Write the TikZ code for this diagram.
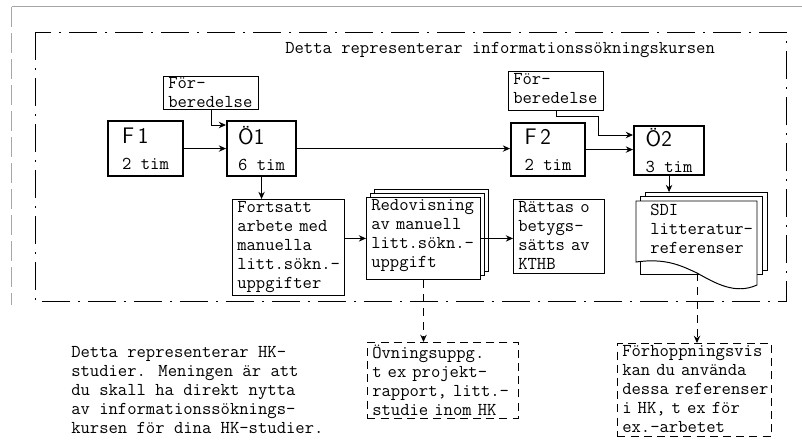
\documentclass[tikz,border=0pt]{standalone}
\usepackage{tikz}
\usetikzlibrary{positioning,arrows.meta,shadows,calc}
\newcommand{\Stor}{\sffamily\fontsize{16}{16}\selectfont}

\begin{document}
\begin{tikzpicture}[font=\ttfamily\fontsize{12.9}{13.5}\selectfont,
  ruta/.style={rectangle,draw,line width=0.7pt,align=left,anchor=north west,inner xsep=0.12cm,inner ysep=0.06cm},
  streck/.style={ruta,dash pattern=on 0.2cm off 0.13cm},
  kurs/.style={rectangle,draw,line width=1.5pt,align=left,anchor=north west,inner sep=0pt},
  pil/.style={-{Stealth[length=1.8mm,width=1.6mm]},line width=0.7pt},
  ram/.style={line width=0.7pt,dash pattern=on 0.7cm off 0.2cm on 0.05cm off 0.2cm}]
  \useasboundingbox (0,0) rectangle (20.05,-11.075);
  % page edges
  \draw[gray!70,line width=0.6pt] (0.29,-0.17) -- (20.05,-0.17);
  \draw[gray!70,line width=0.6pt,dash pattern=on 0.5cm off 0.15cm] (0.29,-0.17) -- (0.29,-7.63);
  % course frame
  \draw[ram] (0.875,-0.8) rectangle (19.65,-7.525);
  \node[anchor=base west,inner sep=0pt] (rubrik) at (7.125,-1.3375) {Detta representerar informationssökningskursen};

  \node[ruta,inner ysep=0.03cm,text width=2.135cm,text depth=0.5cm] (fb1) at (4.075,-1.9) {För-\\beredelse};
  \node[ruta,text width=2.135cm,text depth=0.58cm] (fb2) at (12.7,-1.775) {För-\\[-0.5pt]beredelse};

  \node[kurs,minimum width=1.875cm,minimum height=1.375cm] (f1) at (2.675,-3.0) {{\Stor F\,1}\\[5pt]2 tim};
  \node[kurs,minimum width=1.725cm,minimum height=1.375cm] (o1) at (5.65,-3.0) {{\Stor Ö1}\\[5pt]6 tim};
  \node[kurs,minimum width=1.85cm,minimum height=1.325cm] (f2) at (12.75,-3.05) {{\Stor F\,2}\\[5pt]2 tim};
  \node[kurs,minimum width=1.75cm,minimum height=1.225cm] (o2) at (15.825,-3.125) {{\Stor Ö2}\\[5pt]3 tim};

  \node[ruta,text width=2.56cm,text depth=2.0cm] (fort) at (5.8,-4.975) {Fortsatt\\arbete med\\manuella\\litt.sökn.-\\uppgifter};
  \node[ruta,fill=white,text width=2.61cm,text depth=1.65cm,
    copy shadow={shadow xshift=0.2cm,shadow yshift=0.2cm},
    copy shadow={shadow xshift=0.1cm,shadow yshift=0.1cm}] (redov) at (9.15,-4.925) {Redovisning\\av manuell\\litt.sökn.-\\uppgift};
  \node[ruta,text width=2.035cm,text depth=1.45cm] (ratt) at (12.825,-4.975) {Rättas o\\betygs-\\sätts av\\KTHB};

  % SDI list, three sheets
  \draw[line width=0.7pt,fill=white] (16.125,-4.8) rectangle (19.175,-6.75);
  \draw[line width=0.7pt,fill=white] (16.0,-4.9) rectangle (19.05,-6.85);
  \draw[line width=0.7pt,fill=white] (15.9,-5.025) -- (18.925,-5.025) -- (18.925,-7.125)
    .. controls (18.375,-7.375) and (17.875,-7.075) .. (17.425,-6.825)
    .. controls (17.0,-6.625) and (16.625,-6.45) .. (15.9,-6.55) -- cycle;
  \node[ruta,draw=none,text width=2.6cm] (sdi) at (16.125,-5.025) {SDI\\litteratur-\\referenser};
  \coordinate (sdifot) at (17.425,-6.825);

  \node[streck,text width=3.535cm,text depth=1.43cm] (ovn) at (9.175,-8.55) {Övningsuppg.\\t ex projekt-\\rapport,~litt.-\\studie inom HK};
  \node[streck,text width=3.61cm,text depth=1.93cm] (forh) at (15.425,-8.575) {Förhoppningsvis\\kan du använda\\dessa~referenser\\i HK, t ex för\\ex.-arbetet};
  \node[align=left,anchor=north west,inner sep=0pt] (hk) at (1.775,-8.66) {Detta representerar HK-\\studier. Meningen är att\\du skall ha direkt nytta\\av informationssöknings-\\kursen för dina HK-studier.};

  \draw[pil] (f1) -- (o1);
  \draw[pil] (fb1.south) |- ([yshift=-0.125cm]o1.north west);
  \draw[pil] (o1.east) -- (o1.east -| f2.west);
  \draw[pil] (fb2.south) -- ++(0,-0.125) -- ++(1.05,0) |- ([yshift=-0.25cm]o2.north west);
  \draw[pil] (f2.east) -- (f2.east -| o2.west);
  \draw[pil] (o1.south) -- (o1.south |- fort.north);
  \draw[pil] (fort.east |- redov.west) -- (redov.west);
  \draw[pil] (redov.east) -- (redov.east -| ratt.west);
  \draw[pil] (o2.south) -- ++(0,-0.4);
  \draw[pil,dash pattern=on 0.2cm off 0.15cm] (redov.south) -- (redov.south |- ovn.north);
  \draw[pil,dash pattern=on 0.2cm off 0.15cm] (sdifot) -- (sdifot |- forh.north);
\end{tikzpicture}
\end{document}
